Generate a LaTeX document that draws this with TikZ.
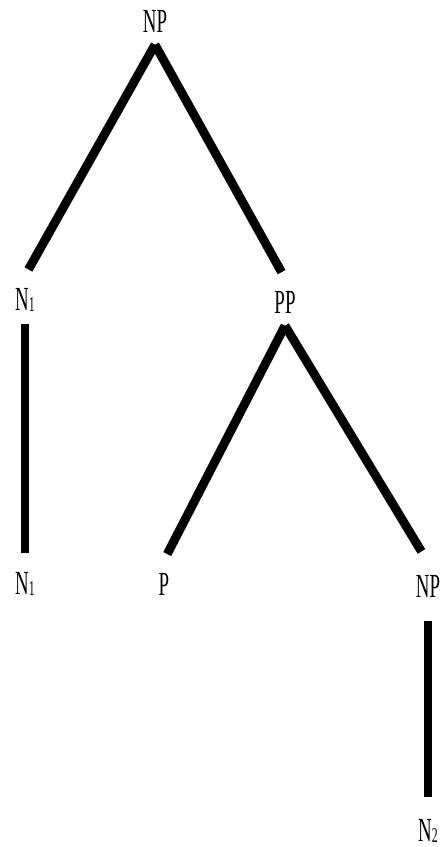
\documentclass[tikz,border=0pt]{standalone}
\usepackage{fontspec}
\setmainfont{Liberation Serif}
\newfontfamily\catfont[FakeStretch=0.56]{Liberation Serif}
\newcommand\catsub[1]{\raisebox{-1pt}{\fontsize{15}{15}\selectfont#1}}

\begin{document}
\begin{tikzpicture}[x=0.025cm,y=-0.025cm]
\tikzset{cat/.style={inner sep=0pt,outer ysep=9pt,font=\catfont\fontsize{24}{26}\selectfont},
  branch/.style={line width=6.3pt,shorten >=5pt}}
\path[use as bounding box] (0,0) rectangle (441,847);
\node[cat] (np) at (155,21) {NP};
\node[cat] (n1) at (25,300) {N\catsub{1}};
\node[cat] (pp) at (285,302) {PP};
\node[cat] (n1b) at (25,584) {N\catsub{1}};
\node[cat] (p) at (164,584) {P};
\node[cat] (np2) at (428,586) {NP};
\node[cat] (n2) at (428,831) {N\catsub{2}};
\draw[branch] (np.south) -- (n1.north);
\draw[branch] (np.south) -- (pp.north);
\draw[branch] (n1.south) -- (n1b.north);
\draw[branch] (pp.south) -- (p.north);
\draw[branch,shorten >=9pt] (pp.south) -- (np2.north);
\draw[branch,shorten <=8pt,shorten >=7pt] (np2.south) -- (n2.north);
\end{tikzpicture}
\end{document}
